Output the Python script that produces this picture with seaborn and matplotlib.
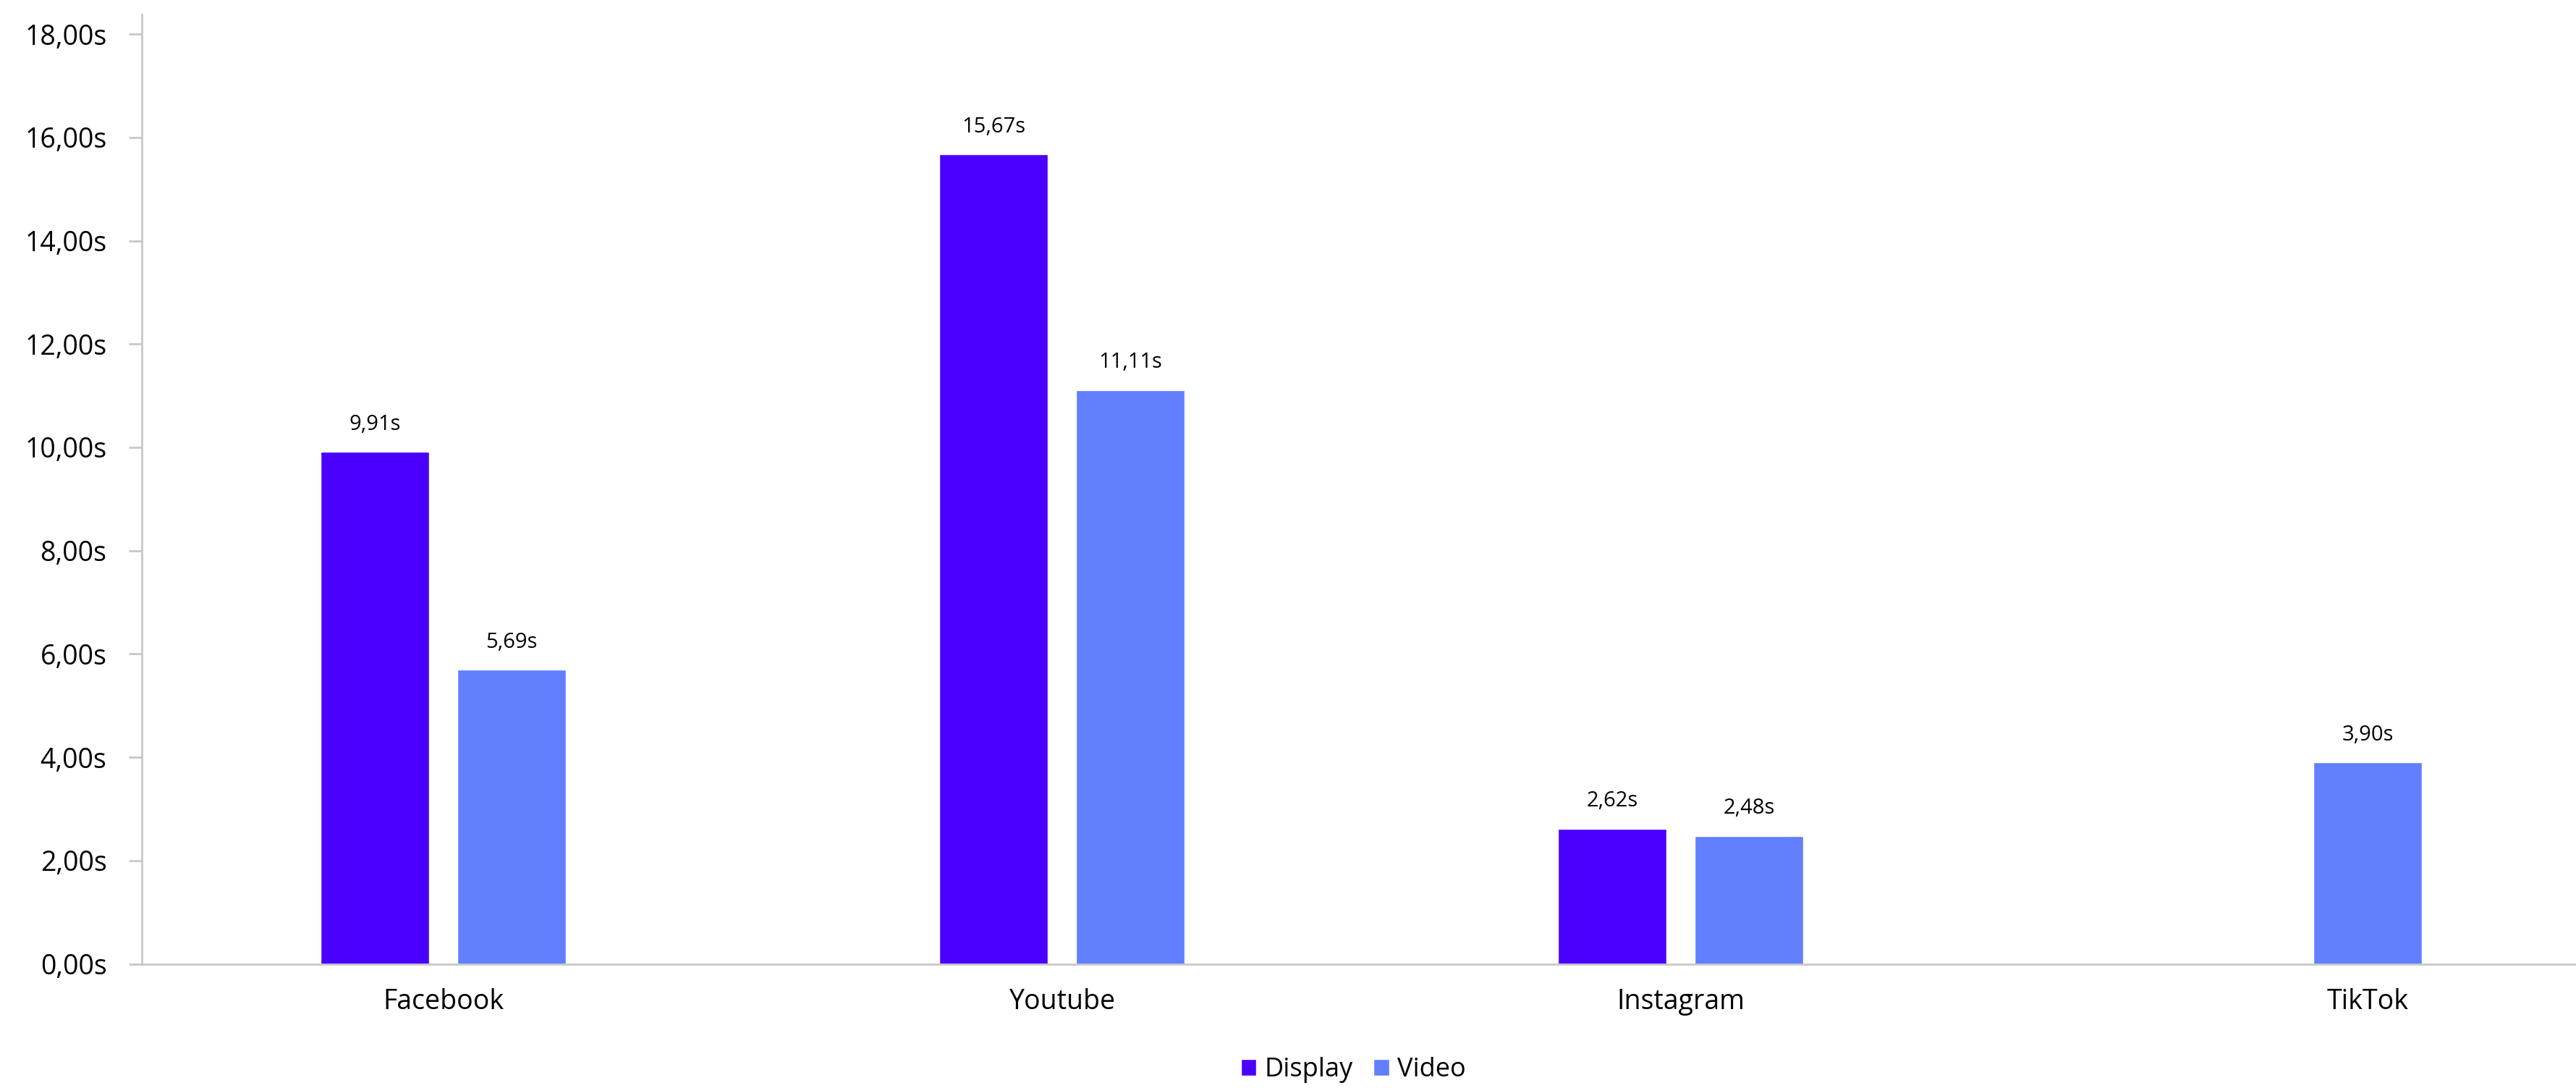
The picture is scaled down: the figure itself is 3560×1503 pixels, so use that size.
import numpy as np
import pandas as pd
import matplotlib
matplotlib.use("Agg")
import matplotlib.pyplot as plt
from matplotlib.patches import Patch
from matplotlib.ticker import FuncFormatter
import seaborn as sns

# data
platforms = ["Facebook", "Youtube", "Instagram", "TikTok"]
display_vals = [9.91, 15.67, 2.62, None]
video_vals = [5.69, 11.11, 2.48, 3.90]
series = ["Display", "Video"]
colors = ["#4a00ff", "#627ffe"]

rows = []
for p, d, v in zip(platforms, display_vals, video_vals):
    if d is not None:
        rows.append({"platform": p, "format": "Display", "time": d})
    if v is not None:
        rows.append({"platform": p, "format": "Video", "time": v})
df = pd.DataFrame(rows)

sns.set_style("white")
plt.rcParams["font.family"] = ["Open Sans", "DejaVu Sans"]
plt.rcParams["text.color"] = "black"
plt.rcParams["xtick.color"] = "black"
plt.rcParams["ytick.color"] = "black"

fig = plt.figure(figsize=(35.6, 15.03), dpi=100)
ax = fig.add_axes([196 / 3560, 1 - 1331.5 / 1503, 1 - 196 / 3560, (1331.5 - 20) / 1503])

sns.barplot(data=df, x="platform", y="time", hue="format", order=platforms,
            hue_order=series, palette=colors, width=0.443, gap=0.208,
            errorbar=None, saturation=1, legend=False, ax=ax)

def fmt(v):
    return f"{v:.2f}s".replace(".", ",")

for cont in ax.containers:
    ax.bar_label(cont, labels=[fmt(b.get_height()) for b in cont],
                 padding=17, fontsize=21, color="black")

ax.set_xlim(-0.487, 3.447)
ax.set_ylim(0, 18.38)
ax.set_yticks(np.arange(0, 19, 2))
ax.yaxis.set_major_formatter(FuncFormatter(lambda v, _: fmt(v)))
ax.set_xlabel("")
ax.set_ylabel("")

# TikTok has only the video bar, its label sits under that bar
tick_pos = list(range(len(platforms)))
tiktok_bar = ax.containers[1][-1]
tick_pos[3] = tiktok_bar.get_x() + tiktok_bar.get_width() / 2
ax.set_xticks(tick_pos)
ax.set_xticklabels(platforms)

grey = "#c8c8c8"
for side in ["top", "right"]:
    ax.spines[side].set_visible(False)
for side in ["left", "bottom"]:
    ax.spines[side].set_color(grey)
    ax.spines[side].set_linewidth(2)
ax.tick_params(axis="y", length=13, width=2, color=grey, labelcolor="black",
               pad=22, labelsize=27, left=True)
ax.tick_params(axis="x", length=0, pad=24, labelsize=27, labelcolor="black")

handles = [Patch(facecolor=c, label=s) for c, s in zip(colors, series)]
fig.legend(handles=handles, loc="center", bbox_to_anchor=(1870 / 3560, 0.0166),
           ncol=2, frameon=False, fontsize=26, handlelength=0.6, handleheight=0.6,
           handletextpad=0.3, columnspacing=0.8, labelcolor="black")

fig.savefig("out.png", dpi=100)
